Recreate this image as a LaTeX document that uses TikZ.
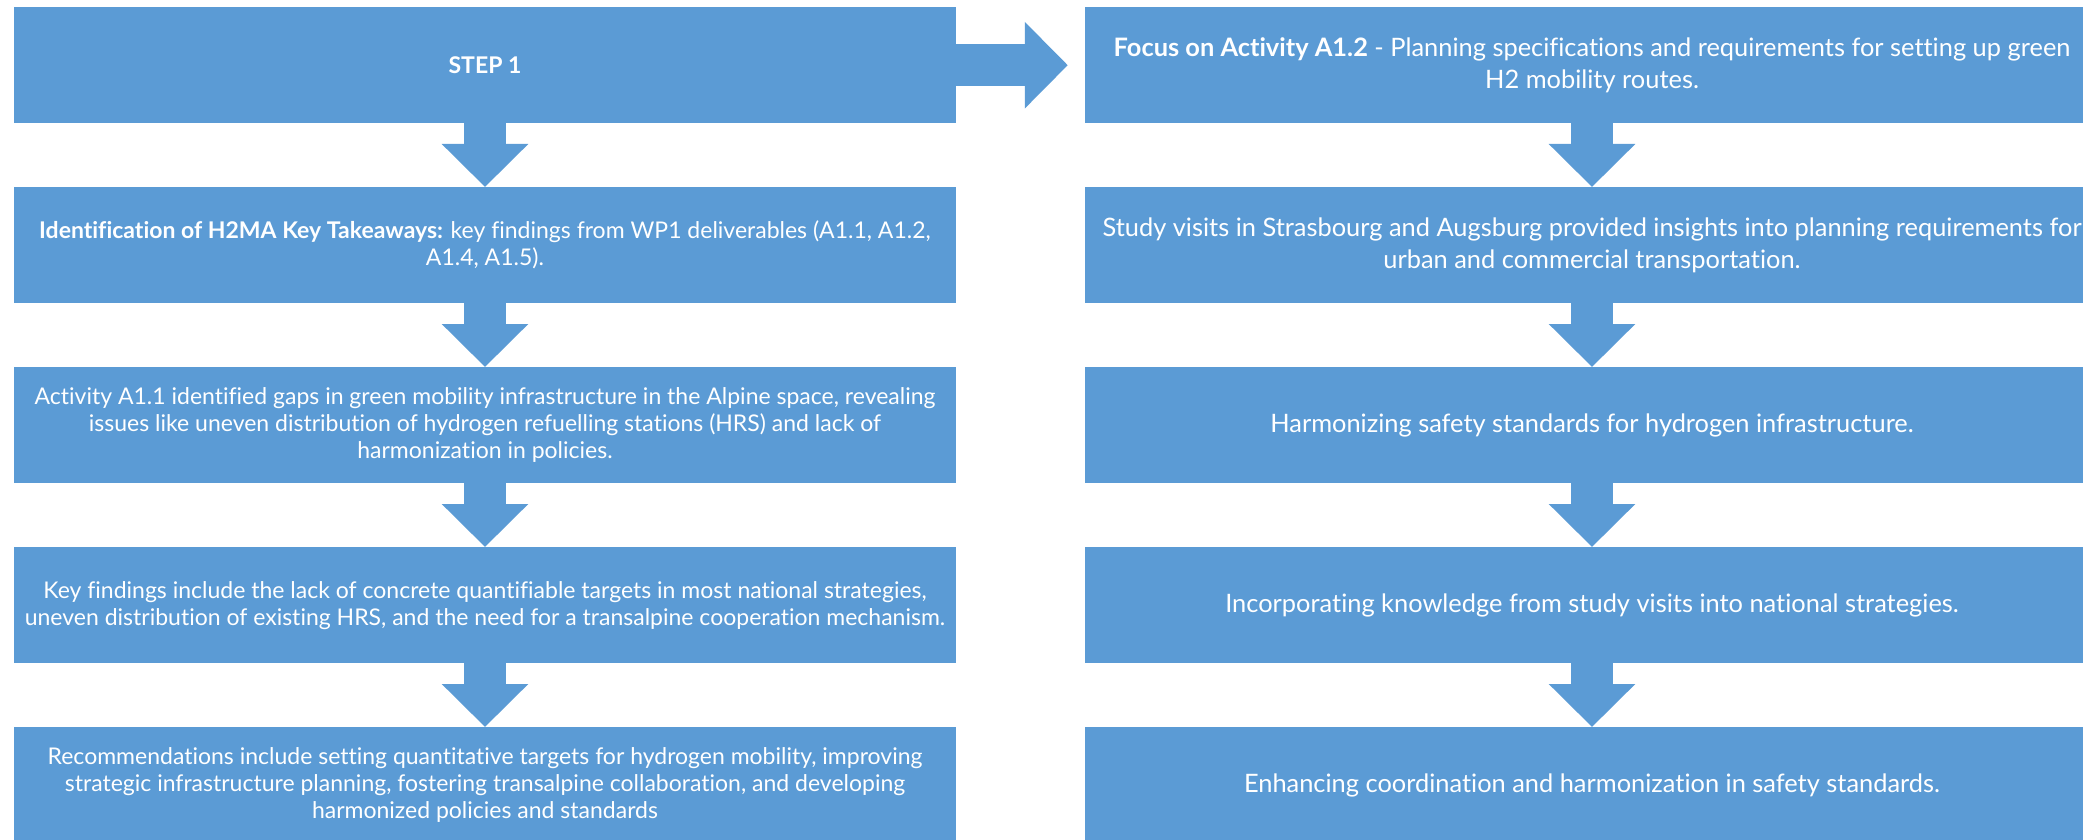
\documentclass[tikz,border=0pt]{standalone}
\usepackage{fontspec}
\setmainfont{Lato}[Ligatures=NoCommon]
\usetikzlibrary{arrows.meta}
\definecolor{flowblue}{RGB}{91,155,213}
\begin{document}
\begin{tikzpicture}[x=1pt,y=-1pt,
  card/.style={fill=flowblue, text=white, minimum height=116pt, inner sep=0pt,
    align=center, anchor=north},
  leftcard/.style={card, minimum width=942pt, font=\fontsize{23}{27}\selectfont},
  rightcard/.style={card, minimum width=1014pt, font=\fontsize{25.4}{31.5}\selectfont},
  flowarrow/.style={draw=flowblue, line width=42pt,
    -{Triangle[length=43pt,width=84pt,fill=flowblue]}}
]
\useasboundingbox (0,0) rectangle (2083,840);
\clip (0,0) rectangle (2083,840);

% left column
\node[leftcard] (s1) at (485,7) {\textbf{STEP 1}};
\node[leftcard] (s2) at (485,187) {\textbf{Identification of H2MA Key Takeaways:} key findings from WP1 deliverables (A1.1, A1.2,\\ A1.4, A1.5).};
\node[leftcard] (s3) at (485,367) {Activity A1.1 identified gaps in green mobility infrastructure in the Alpine space, revealing\\ issues like uneven distribution of hydrogen refuelling stations (HRS) and lack of\\ harmonization in policies.};
\node[leftcard] (s4) at (485,547) {Key findings include the lack of concrete quantifiable targets in most national strategies,\\ uneven distribution of existing HRS, and the need for a transalpine cooperation mechanism.};
\node[leftcard] (s5) at (485,727) {Recommendations include setting quantitative targets for hydrogen mobility, improving\\ strategic infrastructure planning, fostering transalpine collaboration, and developing\\ harmonized policies and standards};

% right column
\node[rightcard] (f1) at (1592,7) {\textbf{Focus on Activity A1.2} - Planning specifications and requirements for setting up green\\ H2 mobility routes.};
\node[rightcard] (f2) at (1592,187) {Study visits in Strasbourg and Augsburg provided insights into planning requirements for\\ urban and commercial transportation.};
\node[rightcard] (f3) at (1592,367) {Harmonizing safety standards for hydrogen infrastructure.};
\node[rightcard] (f4) at (1592,547) {Incorporating knowledge from study visits into national strategies.};
\node[rightcard] (f5) at (1592,727) {Enhancing coordination and harmonization in safety standards.};

% block arrows
\draw[flowarrow] (s1) -- (s2);
\draw[flowarrow] (s2) -- (s3);
\draw[flowarrow] (s3) -- (s4);
\draw[flowarrow] (s4) -- (s5);
\draw[flowarrow] (f1) -- (f2);
\draw[flowarrow] (f2) -- (f3);
\draw[flowarrow] (f3) -- (f4);
\draw[flowarrow] (f4) -- (f5);
\draw[flowarrow, shorten >=17pt] (s1) -- (f1);
\end{tikzpicture}
\end{document}
